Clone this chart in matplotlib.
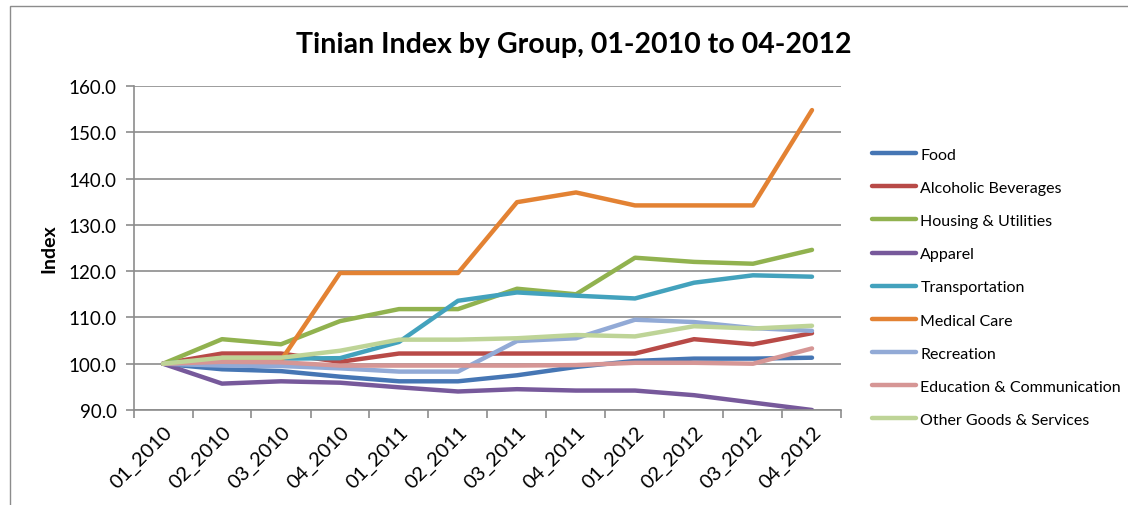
import matplotlib as mpl
import matplotlib.pyplot as plt
from matplotlib.patches import Rectangle

plt.rcParams['font.family'] = ['Lato', 'DejaVu Sans']

# periodos (trimestres)
quarters = ["01_2010", "02_2010", "03_2010", "04_2010", "01_2011", "02_2011",
            "03_2011", "04_2011", "01_2012", "02_2012", "03_2012", "04_2012"]

food = [100.0, 98.8, 98.4, 97.2, 96.2, 96.2, 97.5, 99.3, 100.6, 101.1, 101.1, 101.3]
alcoholic = [100.0, 102.2, 102.2, 100.4, 102.2, 102.2, 102.2, 102.2, 102.2, 105.3, 104.2, 106.6]
housing = [100.0, 105.3, 104.2, 109.2, 111.8, 111.8, 116.2, 115.0, 122.9, 122.0, 121.6, 124.6]
apparel = [100.0, 95.7, 96.2, 95.9, 94.9, 94.0, 94.5, 94.2, 94.2, 93.2, 91.6, 90.0]
transport = [100.0, 101.0, 101.1, 101.2, 104.7, 113.6, 115.4, 114.7, 114.1, 117.5, 119.1, 118.8]
medical = [100.0, 100.5, 100.7, 119.6, 119.6, 119.6, 134.9, 137.0, 134.2, 134.2, 134.2, 154.8]
recreation = [100.0, 99.6, 99.5, 99.0, 98.3, 98.3, 104.9, 105.5, 109.5, 109.0, 107.7, 107.1]
education = [100.0, 100.4, 100.3, 99.6, 99.6, 99.6, 99.6, 99.7, 100.2, 100.2, 100.0, 103.3]
other = [100.0, 101.3, 101.3, 102.8, 105.2, 105.2, 105.5, 106.2, 105.9, 108.1, 107.6, 108.2]

names = ["Food", "Alcoholic Beverages", "Housing & Utilities", "Apparel", "Transportation",
         "Medical Care", "Recreation", "Education & Communication", "Other Goods & Services"]
series = [food, alcoholic, housing, apparel, transport, medical, recreation, education, other]
colors = ["#4676b4", "#b84a47", "#91b24f", "#77599b", "#43a2bd",
          "#e38233", "#92aad6", "#d69695", "#bed497"]

fig = plt.figure(figsize=(11.28, 5.06), dpi=100)
ax = fig.add_axes([133.5/1128, 1-411/506, 708/1128, 324/506])

# marco del grafic
fig.patches.append(Rectangle((10/1128, -0.1), 1.2, 1.1 - 7/506, transform=fig.transFigure,
                             fill=False, edgecolor="#8c8c8c", linewidth=1))

x = range(len(quarters))
for nom, vals, c in zip(names, series, colors):
    ax.plot(x, vals, color=c, linewidth=3.2, label=nom, solid_capstyle='round',
            solid_joinstyle='round')

ax.set_xlim(-0.5, len(quarters) - 0.5)
ax.set_ylim(90, 160)
ax.set_yticks(range(90, 161, 10))
ax.set_yticklabels(["%.1f" % v for v in range(90, 161, 10)], fontsize=13.5)
ax.yaxis.grid(True, color="#959595", linewidth=1.3)
ax.set_axisbelow(True)

ax.set_xticks(list(x))
ax.set_xticklabels(quarters, rotation=45, ha='right', rotation_mode='anchor', fontsize=14.5)
ax.tick_params(axis='x', length=0, pad=9)
ax.set_xticks([i - 0.5 for i in range(len(quarters) + 1)], minor=True)
ax.tick_params(axis='x', which='minor', length=6, color="#8c8c8c", width=1.2)
ax.tick_params(axis='y', length=6, color="#8c8c8c", width=1.2, pad=6)

for s in ['top', 'right']:
    ax.spines[s].set_visible(False)
for s in ['left', 'bottom']:
    ax.spines[s].set_color("#8c8c8c")
    ax.spines[s].set_linewidth(1.2)

ax.set_ylabel("Index", fontsize=14, fontweight='bold', labelpad=8)
fig.suptitle("Tinian Index by Group, 01-2010 to 04-2012", x=574/1128, y=1-45/506,
             va='center', fontsize=20.5, fontweight='bold')

ax.legend(loc='upper left', bbox_to_anchor=(866/1128, 1-142/506), bbox_transform=fig.transFigure,
          frameon=False, fontsize=11.5, handlelength=2.7, handletextpad=0.3,
          labelspacing=1.19, borderaxespad=0)

plt.savefig("out.png", dpi=100)
